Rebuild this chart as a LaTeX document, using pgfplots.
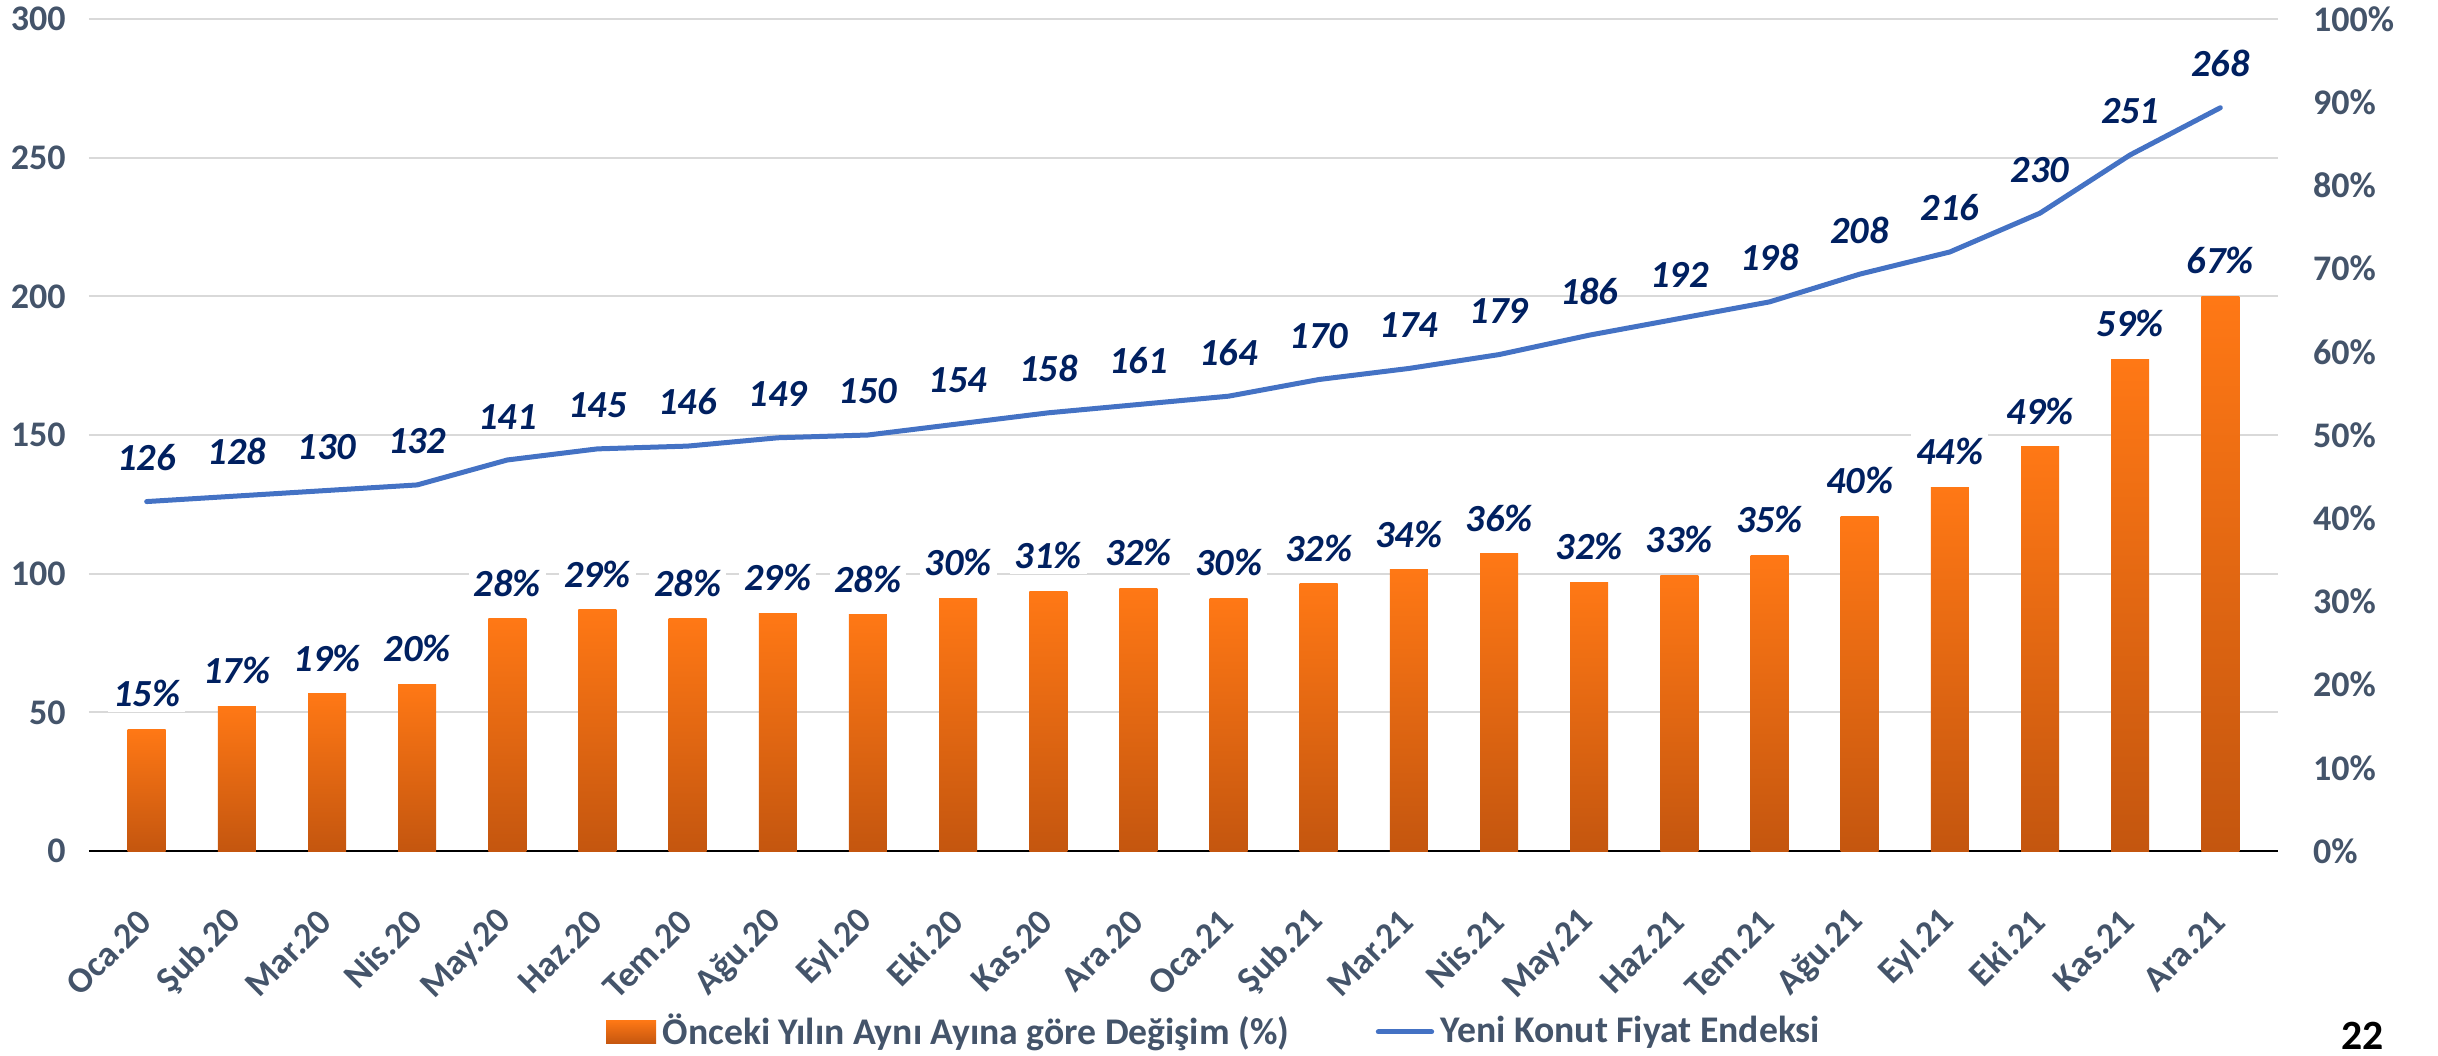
\documentclass[border=0pt]{standalone}
\usepackage{pgfplots}
\usepackage{pgfplotstable}
\pgfplotsset{compat=1.18}
\usepackage{fontspec}
\setmainfont{Carlito}
\definecolor{tickc}{HTML}{44546A}
\definecolor{labc}{HTML}{002060}
\definecolor{linec}{HTML}{4472C4}
\definecolor{gridc}{HTML}{D9D9D9}
\definecolor{otop}{HTML}{FF7815}
\definecolor{obot}{HTML}{C4560F}
\tikzset{
  ticklab/.style={font=\fontsize{10.8}{12}\selectfont\bfseries, text=tickc},
  datalab/.style={font=\fontsize{11.5}{13}\selectfont\bfseries\itshape, text=labc},
}

\pgfplotstableread{
x y lab
0 14.6 15
1 17.4 17
2 18.9 19
3 20.0 20
4 27.9 28
5 29.0 29
6 27.9 28
7 28.6 29
8 28.4 28
9 30.4 30
10 31.2 31
11 31.6 32
12 30.4 30
13 32.1 32
14 33.8 34
15 35.7 36
16 32.3 32
17 33.1 33
18 35.5 35
19 40.2 40
20 43.7 44
21 48.6 49
22 59.1 59
23 66.7 67
}\bars

\pgfplotstableread{
x y
0 126
1 128
2 130
3 132
4 141
5 145
6 146
7 149
8 150
9 154
10 158
11 161
12 164
13 170
14 174
15 179
16 186
17 192
18 198
19 208
20 216
21 230
22 251
23 268
}\idx

\begin{document}
\begin{tikzpicture}
\pgfplotsset{
  common/.style={
    at={(0pt,0pt)}, anchor=south west,
    scale only axis, width=656.7pt, height=249.6pt,
    xmin=-0.64, xmax=23.64,
    /pgf/number format/assume math mode=true,
    tick style={draw=none}, major tick length=0pt,
  },
}
\begin{axis}[common,
  ymin=0, ymax=300, ytick={0,50,...,300},
  ymajorgrids, grid style={gridc, line width=0.6pt},
  axis line style={draw=none},
  xtick={0,...,23},
  xticklabels={Oca.20,Şub.20,Mar.20,Nis.20,May.20,Haz.20,Tem.20,Ağu.20,Eyl.20,Eki.20,Kas.20,Ara.20,Oca.21,Şub.21,Mar.21,Nis.21,May.21,Haz.21,Tem.21,Ağu.21,Eyl.21,Eki.21,Kas.21,Ara.21},
  xticklabel style={ticklab, xshift=2pt, rotate=45, anchor=east},
  xticklabel shift=17pt,
  yticklabel style={ticklab, xshift=-3.5pt},
]
\addplot[linec, line width=1.5pt, line join=round, line cap=round, mark=none,
  nodes near coords,
  every node near coord/.append style={datalab, inner sep=1pt, yshift=7.5pt}]
  table[x=x,y=y]{\idx};
\end{axis}
\begin{axis}[common,
  ymin=0, ymax=100, ytick={0,10,...,100},
  axis y line*=right, axis x line*=bottom,
  y axis line style={draw=none},
  x axis line style={-, black, line width=0.8pt},
  xtick=\empty,
  yticklabel={\pgfmathprintnumber{\tick}\%},
  yticklabel style={ticklab, xshift=7pt},
  legend style={at={(0.515,-0.2175)}, anchor=center, draw=none, fill=none,
    legend columns=2, font=\fontsize{11.3}{12}\selectfont\bfseries, text=tickc,
    /tikz/every even column/.append style={column sep=24pt},
    nodes={inner xsep=2pt}},
]
\pgfplotsinvokeforeach{0,...,23}{
\addplot[ybar, bar width=11.4pt, bar shift=0pt, draw=none, top color=otop, bottom color=obot,
  restrict x to domain=#1:#1, forget plot]
  table[x=x,y=y]{\bars};
}
\addlegendimage{draw=none, legend image code/.code={\path[draw=none, top color=otop, bottom color=obot] (0pt,-3.5pt) rectangle (15pt,3.5pt);}}
\addlegendentry{Önceki Yılın Aynı Ayına göre Değişim (\%)}
\addlegendimage{legend image code/.code={\draw[linec, line width=1.5pt, line cap=round] (0pt,0pt) -- (16pt,0pt);}}
\addlegendentry{Yeni Konut Fiyat Endeksi}
\addplot[ybar, bar width=11.4pt, bar shift=0pt, draw=none, fill=none, forget plot,
  point meta=explicit,
  nodes near coords={\pgfmathprintnumber{\pgfplotspointmeta}\%},
  every node near coord/.append style={datalab, fill=white, inner sep=1.5pt, yshift=5pt}]
  table[x=x,y=y,meta=lab]{\bars};
\end{axis}
\node[font=\fontsize{12.5}{14}\selectfont\bfseries, text=black] at (682pt,-55.5pt) {22};
\pgfresetboundingbox
\path[use as bounding box] (-26.7pt,-61.2pt) rectangle (704.7pt,255.3pt);
\end{tikzpicture}
\end{document}
